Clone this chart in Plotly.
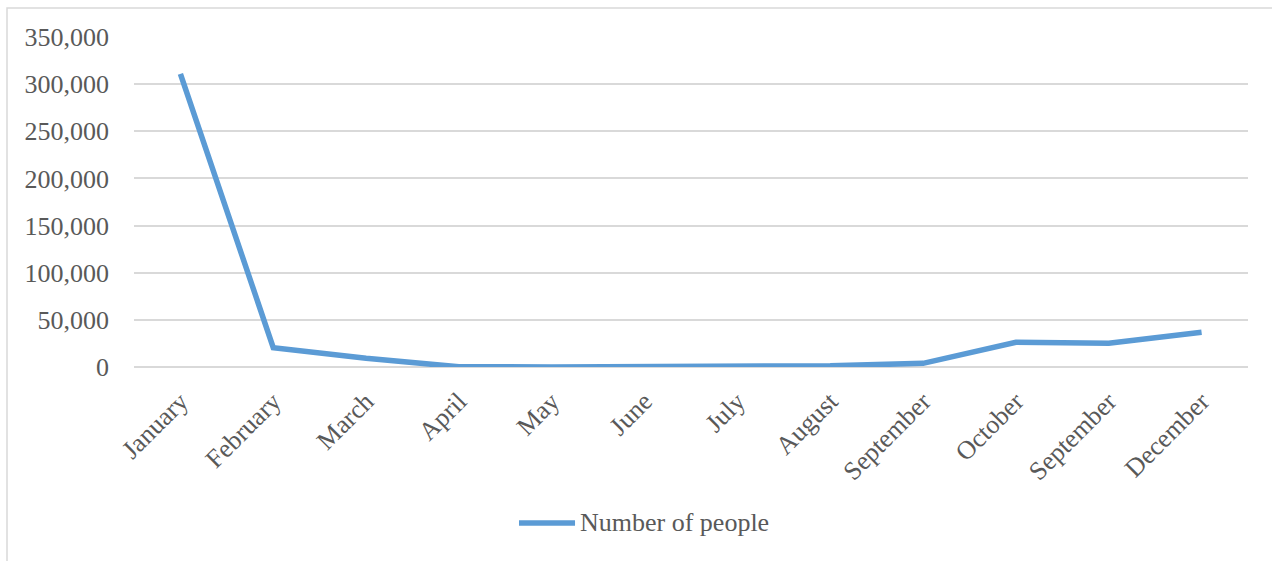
import plotly.graph_objects as go

months = ["January", "February", "March", "April", "May", "June", "July",
          "August", "September", "October", "September", "December"]
people = [311000, 20500, 9200, 200, 100, 150, 400, 1200, 3900, 26200, 25100, 36800]
y_ticks = [0, 50000, 100000, 150000, 200000, 250000, 300000, 350000]
series_name = "Number of people"

FONT = "Liberation Serif, Times New Roman, serif"
TXT = "#595959"
GRID = "#d9d9d9"
LINE = "#5b9bd5"

x_pos = list(range(len(months)))

fig = go.Figure()
fig.add_trace(go.Scatter(
    x=x_pos, y=people, mode="lines", name=series_name,
    line=dict(color=LINE, width=5.5), showlegend=False,
))

# manual legend (line sample + label) centred under the plot
fig.add_shape(type="line", xref="paper", yref="paper",
              x0=0.3456, x1=0.3959, y0=-0.4727, y1=-0.4727,
              line=dict(color=LINE, width=5.5))
fig.add_annotation(text=series_name, xref="paper", yref="paper",
                   x=0.3986, y=-0.4727, xanchor="left", yanchor="middle",
                   showarrow=False, font=dict(family=FONT, size=26, color=TXT))

# chart-area border (cropped at right and bottom like the reference)
fig.add_shape(type="rect", xref="paper", yref="paper",
              x0=-0.114, x1=1.06, y0=-0.65, y1=1.088,
              line=dict(color=GRID, width=1.5), layer="below")

fig.update_layout(
    width=1272, height=561,
    margin=dict(l=134, r=24, t=37, b=194),
    paper_bgcolor="white", plot_bgcolor="white",
    font=dict(family=FONT, size=26, color=TXT),
    showlegend=False,
)
fig.update_xaxes(
    range=[-0.5, len(months) - 0.5],
    tickmode="array", tickvals=x_pos, ticktext=months,
    tickangle=-45, showgrid=False, zeroline=False, showline=False,
    ticks="", ticklabelstandoff=13,
    tickfont=dict(family=FONT, size=26, color=TXT),
)
fig.update_yaxes(
    range=[0, 350000], tickmode="array", tickvals=y_ticks,
    tickformat=",", showgrid=True, gridcolor=GRID, gridwidth=1.5,
    zeroline=True, zerolinecolor=GRID, zerolinewidth=1.5,
    showline=False, ticks="", ticklabelstandoff=24,
    tickfont=dict(family=FONT, size=26, color=TXT),
)

fig.write_html("out.html")
